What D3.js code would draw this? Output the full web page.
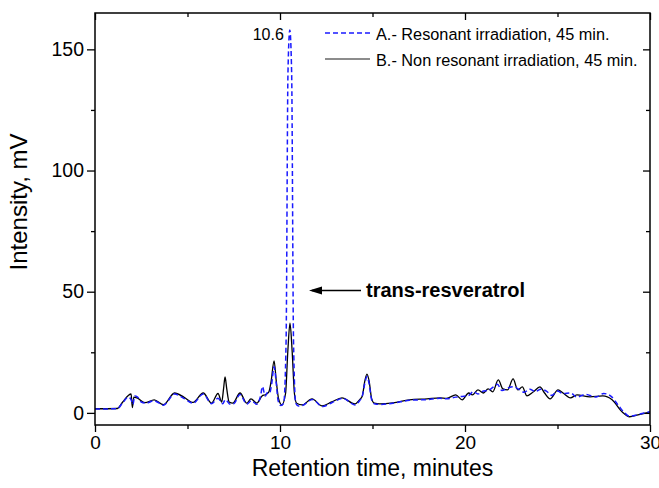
<!DOCTYPE html>
<html>
<head>
<meta charset="utf-8">
<script src="https://cdn.jsdelivr.net/npm/d3@7"></script>
<style>
  body { margin: 0; background: #fff; }
  #chart { width: 659px; height: 488px; }
</style>
</head>
<body>
<div id="chart"></div>
<script>
// chromatogram traces, [retention time (min), intensity (mV)]
const seriesA = [
  [0, 1.6], [1.2, 1.7], [1.5, 4.2], [1.8, 6.5], [1.95, 5.5], [2.05, 3.5], [2.15, 7], [2.3, 6.5],
  [2.5, 4.5], [2.75, 4], [3.2, 5], [3.7, 3.2], [4.3, 7.8], [4.8, 6], [5.3, 4], [5.85, 7.8],
  [6.3, 3.8], [6.65, 6], [6.9, 3.8], [7.05, 5.5], [7.3, 3.6], [7.5, 3.8], [7.84, 7.6], [8.2, 3.6],
  [8.45, 5], [8.75, 3.6], [8.95, 7], [9.05, 10.8], [9.2, 7], [9.35, 8.7], [9.45, 8.5], [9.55, 12],
  [9.68, 19], [9.8, 12], [9.9, 5], [10.05, 3], [10.2, 4], [10.33, 30], [10.43, 140], [10.53, 158],
  [10.63, 140], [10.73, 30], [10.85, 4], [11.0, 2.8], [11.2, 3], [11.75, 5.5], [12.3, 2.6],
  [12.8, 4.2], [13.4, 6], [14.05, 3.3], [14.3, 5], [14.45, 7], [14.58, 12], [14.7, 15],
  [14.82, 12], [14.95, 5.5], [15.1, 3.8], [15.4, 3.5], [16.1, 4], [17, 5.2], [17.95, 5.5],
  [18.65, 6], [19, 5.8], [19.5, 6.5], [19.85, 6.8], [20.2, 7.2], [20.45, 8.8], [20.7, 7.8],
  [21, 9], [21.25, 9.2], [21.5, 10.5], [21.75, 11.8], [22.0, 9.2], [22.3, 10.2], [22.6, 10.8],
  [22.9, 9.8], [23.2, 8.5], [23.5, 9.8], [23.8, 8.8], [24.1, 9.8], [24.4, 9], [24.7, 7.2],
  [25.0, 9], [25.3, 8], [25.7, 8.2], [26.05, 6.5], [26.5, 7.6], [27.1, 6.6], [27.5, 8],
  [27.9, 6.8], [28.3, 3], [28.6, 0.2], [28.9, -1.4], [29.35, -0.7], [30, 0.5]
];

const seriesB = [
  [0, 1.7], [1.2, 1.8], [1.5, 4.5], [1.8, 7.2], [1.95, 7.8], [2.02, 2.2], [2.1, 6.5], [2.27, 6.2],
  [2.7, 4.2], [3.2, 5.4], [3.7, 3.4], [4.3, 8.2], [4.8, 6.5], [5.3, 4.3], [5.85, 8.2], [6.3, 4],
  [6.65, 8], [6.85, 4.5], [6.95, 10], [7.03, 14.8], [7.12, 10], [7.25, 4.5], [7.45, 4],
  [7.84, 8.2], [8.2, 4], [8.43, 5.8], [8.75, 4], [9.03, 7], [9.2, 7.5], [9.4, 8.7], [9.52, 13],
  [9.68, 21.5], [9.8, 13], [9.92, 6], [10.1, 3.3], [10.3, 8], [10.42, 25], [10.54, 37],
  [10.66, 25], [10.78, 8], [10.9, 4], [11.2, 3.3], [11.73, 5.8], [12.27, 2.9], [12.8, 4.5],
  [13.35, 6.2], [14.05, 3.7], [14.3, 5.4], [14.45, 7], [14.58, 13], [14.7, 16], [14.82, 13],
  [14.95, 6], [15.1, 4], [15.4, 3.7], [16.1, 4.1], [17, 5.4], [17.95, 5.8], [18.65, 6.2],
  [19, 6], [19.5, 7.4], [19.85, 5.4], [20.2, 8.2], [20.4, 7.4], [20.7, 9.5], [21, 8.2],
  [21.25, 9.9], [21.5, 8.7], [21.8, 13.6], [22.05, 9.9], [22.3, 9.5], [22.6, 14], [22.85, 9.5],
  [23.1, 10.7], [23.35, 7], [23.7, 8.7], [24.05, 10.7], [24.3, 8.2], [24.6, 5.8], [25.03, 9.5],
  [25.3, 8.2], [25.7, 6.2], [26.05, 7.4], [26.75, 6.6], [27.45, 7], [27.95, 5.4], [28.5, 0.4],
  [28.9, -1.6], [29.35, -0.8], [30, 0.3]
];

const legendLabels = ["A.- Resonant irradiation, 45 min.", "B.- Non resonant irradiation, 45 min."];
const xMajorTicks = [0, 10, 20, 30];
const xMinorTicks = [5, 15, 25];
const yMajorTicks = [0, 50, 100, 150];
const yMinorTicks = [25, 75, 125];
const peakLabel = { t: 10.53, v: 158, text: "10.6" };
const arrowNote = { t: 11.6, v: 50.5, text: "trans-resveratrol" };

const width = 659, height = 488;
const margin = { left: 95, right: 9, top: 13, bottom: 63 };
const font = "'Liberation Sans', Arial, sans-serif";

const svg = d3.select("#chart").append("svg")
  .attr("width", width)
  .attr("height", height);

const x = d3.scaleLinear().domain([0, 30]).range([margin.left, width - margin.right]);
const y = d3.scaleLinear().domain([-5, 165]).range([height - margin.bottom, margin.top]);

const x0 = x.range()[0], x1 = x.range()[1];
const y0 = y.range()[0], y1 = y.range()[1];

// bottom axis, outward ticks
svg.append("g")
  .attr("transform", "translate(0," + y0 + ")")
  .call(d3.axisBottom(x).tickValues(xMajorTicks).tickSize(7).tickSizeOuter(0).tickPadding(4))
  .call(g => g.select(".domain").remove())
  .call(g => g.selectAll("text").attr("font-size", "19px").attr("font-family", font).attr("fill", "#000"));
svg.append("g")
  .attr("transform", "translate(0," + y0 + ")")
  .call(d3.axisBottom(x).tickValues(xMinorTicks).tickSize(4).tickFormat(""))
  .call(g => g.select(".domain").remove());

// left axis, outward ticks
svg.append("g")
  .attr("transform", "translate(" + x0 + ",0)")
  .call(d3.axisLeft(y).tickValues(yMajorTicks).tickSize(8).tickPadding(3))
  .call(g => g.select(".domain").remove())
  .call(g => g.selectAll("text").attr("font-size", "19.5px").attr("font-family", font).attr("fill", "#000"));
svg.append("g")
  .attr("transform", "translate(" + x0 + ",0)")
  .call(d3.axisLeft(y).tickValues(yMinorTicks).tickSize(4).tickFormat(""))
  .call(g => g.select(".domain").remove());

// mirrored top and right axes, inward ticks
svg.append("g")
  .attr("transform", "translate(0," + y1 + ")")
  .call(d3.axisBottom(x).tickValues(xMajorTicks).tickSize(7).tickFormat(""))
  .call(g => g.select(".domain").remove());
svg.append("g")
  .attr("transform", "translate(0," + y1 + ")")
  .call(d3.axisBottom(x).tickValues(xMinorTicks).tickSize(4).tickFormat(""))
  .call(g => g.select(".domain").remove());
svg.append("g")
  .attr("transform", "translate(" + x1 + ",0)")
  .call(d3.axisLeft(y).tickValues(yMajorTicks).tickSize(7).tickFormat(""))
  .call(g => g.select(".domain").remove());
svg.append("g")
  .attr("transform", "translate(" + x1 + ",0)")
  .call(d3.axisLeft(y).tickValues(yMinorTicks).tickSize(4).tickFormat(""))
  .call(g => g.select(".domain").remove());

svg.selectAll(".tick line").attr("stroke", "#000").attr("stroke-width", 1.3);

const clipId = "plotclip";
svg.append("clipPath").attr("id", clipId)
  .append("rect")
  .attr("x", x0).attr("y", y1)
  .attr("width", x1 - x0).attr("height", y0 - y1);

const line = d3.line()
  .curve(d3.curveMonotoneX)
  .x(d => x(d[0]))
  .y(d => y(d[1]));

const plot = svg.append("g").attr("clip-path", "url(#" + clipId + ")");

plot.append("path")
  .datum(seriesB)
  .attr("fill", "none")
  .attr("stroke", "#000")
  .attr("stroke-width", 1.3)
  .attr("d", line);

plot.append("path")
  .datum(seriesA)
  .attr("fill", "none")
  .attr("stroke", "#1a1aff")
  .attr("stroke-width", 1.5)
  .attr("stroke-dasharray", "5,3")
  .attr("d", line);

// frame
svg.append("rect")
  .attr("x", x0).attr("y", y1)
  .attr("width", x1 - x0).attr("height", y0 - y1)
  .attr("fill", "none")
  .attr("stroke", "#000")
  .attr("stroke-width", 1.5);

// axis titles
svg.append("text")
  .attr("x", (x0 + x1) / 2)
  .attr("y", 476)
  .attr("text-anchor", "middle")
  .attr("font-family", font)
  .attr("font-size", "23px")
  .text("Retention time, minutes");

svg.append("text")
  .attr("transform", "translate(27," + 202 + ") rotate(-90)")
  .attr("text-anchor", "middle")
  .attr("font-family", font)
  .attr("font-size", "24px")
  .text("Intensity, mV");

// peak label
svg.append("text")
  .attr("x", x(peakLabel.t) - 6)
  .attr("y", 40)
  .attr("text-anchor", "end")
  .attr("font-family", font)
  .attr("font-size", "16px")
  .text(peakLabel.text);

// arrow annotation
const ay = y(arrowNote.v);
svg.append("line")
  .attr("x1", 361).attr("y1", ay)
  .attr("x2", 312).attr("y2", ay)
  .attr("stroke", "#000")
  .attr("stroke-width", 1.3);
svg.append("path")
  .attr("d", "M309," + ay + "L322," + (ay - 4) + "L322," + (ay + 4) + "Z")
  .attr("fill", "#000");

svg.append("text")
  .attr("x", 366)
  .attr("y", ay + 7)
  .attr("font-family", font)
  .attr("font-size", "20px")
  .attr("font-weight", "bold")
  .text(arrowNote.text);

// legend
const legend = svg.append("g").attr("transform", "translate(325,33)");
const legendStyles = [
  { stroke: "#1a1aff", dash: "5,3", w: 1.5 },
  { stroke: "#666", dash: null, w: 1.5 }
];
legendLabels.forEach((lab, i) => {
  const row = legend.append("g").attr("transform", "translate(0," + i * 26 + ")");
  row.append("line")
    .attr("x1", 0).attr("x2", 45)
    .attr("y1", 0).attr("y2", 0)
    .attr("stroke", legendStyles[i].stroke)
    .attr("stroke-width", legendStyles[i].w)
    .attr("stroke-dasharray", legendStyles[i].dash);
  row.append("text")
    .attr("x", 51)
    .attr("y", 6.5)
    .attr("font-family", font)
    .attr("font-size", "16.3px")
    .text(lab);
});
</script>
</body>
</html>
